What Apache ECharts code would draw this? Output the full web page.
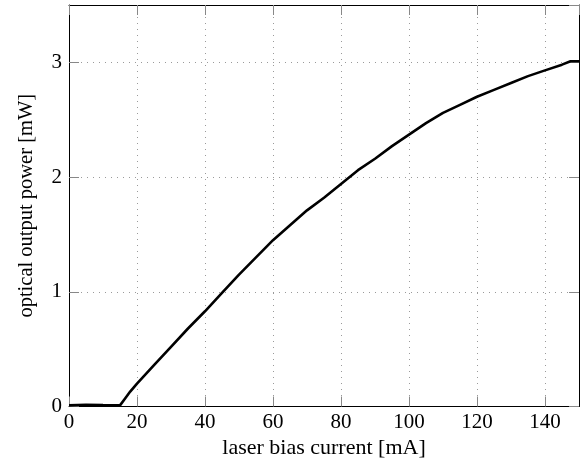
<!DOCTYPE html>
<html>
<head>
<meta charset="utf-8">
<script src="https://cdn.jsdelivr.net/npm/echarts@6/dist/echarts.min.js"></script>
<style>html,body{margin:0;padding:0;background:#fff}#c{width:587px;height:470px}</style>
</head>
<body>
<div id="c"></div>
<script>
// laser bias current [mA]
const current = [0, 5, 10, 15, 15.5, 16.5, 18, 20, 25, 30, 35, 40, 45, 50, 55, 60, 65, 70, 75, 80, 85, 90, 95, 100, 105, 110, 115, 120, 125, 130, 135, 140, 145, 147.5, 150];
// optical output power [mW]
const power = [0.01, 0.015, 0.012, 0.01, 0.015, 0.07, 0.13, 0.2, 0.36, 0.52, 0.68, 0.83, 0.99, 1.15, 1.30, 1.45, 1.58, 1.71, 1.82, 1.94, 2.06, 2.16, 2.27, 2.37, 2.47, 2.56, 2.63, 2.70, 2.76, 2.82, 2.88, 2.93, 2.98, 3.01, 3.01];
const xName = 'laser bias current [mA]';
const yName = 'optical output power [mW]';

const font = 'Liberation Serif';
const fs = 21;
const grid = {type: [1, 5], color: '#9a9a9a', width: 1};
const tick = {show: true, inside: true, length: 10, lineStyle: {color: '#888', width: 1}};
const line = {show: true, onZero: false, lineStyle: {color: '#000', width: 1}};

const chart = echarts.init(document.getElementById('c'), null, {renderer: 'canvas'});
chart.setOption({
  animation: false,
  backgroundColor: '#fff',
  grid: {left: 69, right: 8, top: 5, bottom: 63.5, containLabel: false},
  xAxis: [{
    type: 'value', min: 0, max: 150, interval: 20, position: 'bottom',
    name: xName, nameLocation: 'middle', nameGap: 30,
    nameTextStyle: {fontFamily: font, fontSize: 22, color: '#000'},
    axisLine: line,
    axisTick: tick,
    axisLabel: {fontFamily: font, fontSize: fs, color: '#000', margin: 5, showMaxLabel: false},
    splitLine: {show: true, lineStyle: grid}
  }, {
    type: 'value', min: 0, max: 150, interval: 20, position: 'top',
    axisLine: line,
    axisTick: tick, axisLabel: {show: false}, splitLine: {show: false}
  }],
  yAxis: [{
    type: 'value', min: 0, max: 3.5, interval: 1, position: 'left',
    name: yName, nameLocation: 'middle', nameGap: 32,
    nameTextStyle: {fontFamily: font, fontSize: 20.5, color: '#000'},
    axisLine: line,
    axisTick: tick,
    axisLabel: {fontFamily: font, fontSize: fs, color: '#000', margin: 7, showMaxLabel: false},
    splitLine: {show: true, lineStyle: grid}
  }, {
    type: 'value', min: 0, max: 3.5, interval: 1, position: 'right',
    axisLine: line,
    axisTick: tick, axisLabel: {show: false}, splitLine: {show: false}
  }],
  series: [{
    type: 'line',
    data: current.map((x, i) => [x, power[i]]),
    showSymbol: false,
    lineStyle: {color: '#000', width: 2.6},
    clip: true
  }]
});
</script>
</body>
</html>
